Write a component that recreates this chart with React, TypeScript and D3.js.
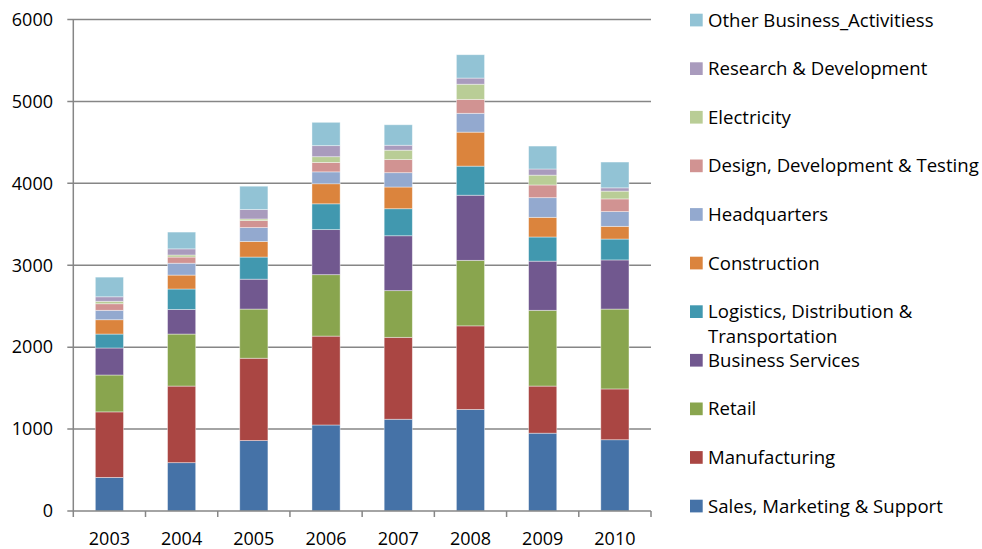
import React, { useEffect, useRef } from 'react';
import * as d3 from 'd3';

const years = ['2003', '2004', '2005', '2006', '2007', '2008', '2009', '2010'];

// series values, bottom of the stack first
const sales = [410, 590, 860, 1050, 1120, 1240, 950, 870];
const manufacturing = [800, 935, 1005, 1085, 1000, 1020, 575, 620];
const retail = [450, 635, 600, 750, 570, 800, 925, 975];
const businessServices = [330, 300, 365, 550, 670, 795, 600, 600];
const logistics = [170, 250, 270, 315, 330, 355, 295, 255];
const construction = [175, 170, 190, 245, 265, 415, 240, 155];
const headquarters = [115, 145, 170, 145, 175, 230, 240, 180];
const design = [80, 75, 85, 115, 160, 170, 155, 155];
const electricity = [30, 25, 20, 70, 115, 185, 120, 95];
const research = [55, 75, 115, 135, 60, 75, 75, 40];
const other = [240, 205, 285, 285, 250, 285, 280, 315];

const seriesNames = [
  'Sales, Marketing & Support',
  'Manufacturing',
  'Retail',
  'Business Services',
  'Logistics, Distribution & Transportation',
  'Construction',
  'Headquarters',
  'Design, Development & Testing',
  'Electricity',
  'Research & Development',
  'Other Business_Activitiess',
];
const seriesValues = [
  sales, manufacturing, retail, businessServices, logistics, construction,
  headquarters, design, electricity, research, other,
];
const colors = [
  '#4572A7', '#AA4643', '#89A54E', '#71588F', '#4198AF', '#DB843D',
  '#93A9CF', '#D19392', '#B9CD96', '#A99BBD', '#92C3D5',
];
const yTicks = [0, 1000, 2000, 3000, 4000, 5000, 6000];

const FONT = '"Open Sans", sans-serif';

const App = () => {
  const svgRef = useRef<SVGSVGElement>(null);

  useEffect(() => {
    const svg = d3.select(svgRef.current);
    svg.selectAll('*').remove();

    const left = 73.3;
    const right = 651;
    const top = 19.5;
    const bottom = 511;

    const x = d3.scaleBand().domain(years).range([left, right]).paddingInner(0.61).paddingOuter(0.305);
    const y = d3.scaleLinear().domain([0, 6000]).range([bottom, top]);

    const rows = years.map((yr, i) => {
      const row: any = { year: yr };
      seriesNames.forEach((n, k) => { row[n] = seriesValues[k][i]; });
      return row;
    });
    const stacked = d3.stack().keys(seriesNames)(rows);

    const grey = '#868686';

    // gridlines
    svg.append('g')
      .selectAll('line')
      .data(yTicks.filter(t => t > 0))
      .enter()
      .append('line')
      .attr('x1', left - 6)
      .attr('x2', right)
      .attr('y1', d => y(d))
      .attr('y2', d => y(d))
      .attr('stroke', grey)
      .attr('stroke-width', 1.5);

    // bars
    svg.append('g')
      .selectAll('g')
      .data(stacked)
      .enter()
      .append('g')
      .attr('fill', (d, i) => colors[i])
      .selectAll('rect')
      .data(d => d)
      .enter()
      .append('rect')
      .attr('x', d => x(d.data.year as string)!)
      .attr('width', x.bandwidth())
      .attr('y', d => y(d[1]))
      .attr('height', d => y(d[0]) - y(d[1]))
      .attr('stroke', '#ffffff')
      .attr('stroke-opacity', 0.5)
      .attr('stroke-width', 0.8);

    // axes
    svg.append('line')
      .attr('x1', left).attr('x2', left)
      .attr('y1', top).attr('y2', bottom)
      .attr('stroke', grey).attr('stroke-width', 1.5);
    svg.append('line')
      .attr('x1', left - 6).attr('x2', right)
      .attr('y1', bottom).attr('y2', bottom)
      .attr('stroke', grey).attr('stroke-width', 1.5);

    svg.append('g')
      .selectAll('text')
      .data(yTicks)
      .enter()
      .append('text')
      .attr('x', 53)
      .attr('y', d => y(d))
      .attr('dy', '0.35em')
      .attr('text-anchor', 'end')
      .style('font-family', FONT)
      .style('font-size', '18px')
      .style('fill', '#000')
      .text(d => d);

    // x ticks between categories
    const edges = years.map(yr => x(yr)! - (x.step() - x.bandwidth()) / 2);
    edges.push(right);
    svg.append('g')
      .selectAll('line')
      .data(edges)
      .enter()
      .append('line')
      .attr('x1', d => d).attr('x2', d => d)
      .attr('y1', bottom).attr('y2', bottom + 6)
      .attr('stroke', grey).attr('stroke-width', 1.5);

    svg.append('g')
      .selectAll('text')
      .data(years)
      .enter()
      .append('text')
      .attr('x', d => x(d)! + x.bandwidth() / 2)
      .attr('y', 539)
      .attr('dy', '0.35em')
      .attr('text-anchor', 'middle')
      .style('font-family', FONT)
      .style('font-size', '18px')
      .style('fill', '#000')
      .text(d => d);

    // legend, top entry is the last series
    const legendOrder = seriesNames.map((n, i) => i).reverse();
    const legend = svg.append('g')
      .selectAll('g')
      .data(legendOrder)
      .enter()
      .append('g')
      .attr('transform', (d, j) => `translate(690,${20 + j * 48.6})`);

    legend.append('rect')
      .attr('x', 0)
      .attr('y', -6.3)
      .attr('width', 12.7)
      .attr('height', 12.7)
      .attr('fill', d => colors[d]);

    legend.append('text')
      .attr('x', 18)
      .attr('dy', '0.35em')
      .style('font-family', FONT)
      .style('font-size', '18.6px')
      .style('fill', '#000')
      .each(function (d) {
        const t = d3.select(this);
        const name = seriesNames[d];
        if (name.startsWith('Logistics')) {
          t.append('tspan').attr('x', 18).text('Logistics, Distribution &');
          t.append('tspan').attr('x', 18).attr('dy', 25).text('Transportation');
        } else {
          t.text(name);
        }
      });
  }, []);

  return (
    <svg
      ref={svgRef}
      width={982}
      height={549}
      style={{ position: 'absolute', left: 0, top: 0, background: '#fff' }}
    />
  );
};

export default App;
